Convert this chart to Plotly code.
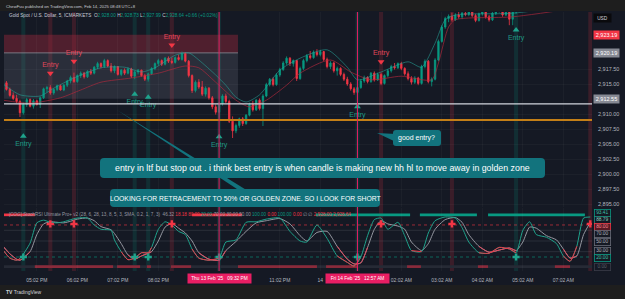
import plotly.graph_objects as go

# ---------------- data ----------------
bar_open = [
 2913.6, 2915.2, 2914.1, 2913.1, 2912.6, 2912.1, 2910.2, 2911.6, 2912.4, 2911.3,
 2912.2, 2911.6, 2912.7, 2914.2, 2914.4, 2913.5, 2914.1, 2914.7, 2914.0, 2914.8,
 2915.5, 2916.1, 2915.4, 2916.4, 2916.8, 2916.2, 2917.1, 2916.8, 2917.8, 2918.4,
 2917.9, 2918.9, 2918.0, 2917.2, 2917.9, 2916.6, 2917.3, 2916.8, 2917.5, 2916.3,
 2917.0, 2917.3, 2916.4, 2915.8, 2916.7, 2917.6, 2918.4, 2918.9, 2918.3, 2919.3,
 2918.8, 2918.6, 2919.4, 2919.1, 2920.1, 2918.8, 2916.4, 2913.9, 2915.3, 2914.5,
 2913.3, 2914.3, 2912.7, 2911.2, 2910.3, 2911.7, 2913.0, 2912.1, 2908.8, 2907.2,
 2908.1, 2909.2, 2908.4, 2909.8, 2911.6, 2910.7, 2912.3, 2910.9, 2913.0, 2914.9,
 2915.8, 2914.9, 2916.5, 2917.4, 2918.5, 2919.3, 2918.4, 2918.9, 2915.9, 2917.6,
 2918.9, 2919.7, 2919.4, 2920.3, 2919.9, 2920.4, 2919.1, 2917.9, 2918.5, 2917.2,
 2917.6, 2916.6, 2915.8, 2915.0, 2914.2, 2913.6, 2914.4, 2915.5, 2916.1, 2915.4,
 2916.8, 2915.7, 2916.6, 2915.1, 2916.4, 2917.2, 2917.9, 2917.7, 2918.4, 2917.6,
 2916.7, 2915.9, 2915.3, 2916.0, 2915.1, 2917.9, 2918.8, 2915.4, 2915.8, 2919.0,
 2922.1, 2924.5, 2925.9, 2926.3, 2925.7, 2926.5, 2926.2, 2926.8, 2926.6, 2927.1,
 2926.4, 2925.6, 2926.7, 2927.0, 2926.2, 2925.7, 2926.8, 2927.1, 2927.4, 2926.5,
 2927.2, 2925.8, 2927.0, 2927.5, 2928.1, 2928.7, 2929.0, 2929.4, 2929.2, 2929.7,
 2929.5, 2929.1, 2929.3, 2928.8, 2928.5, 2928.1, 2927.8, 2928.0, 2927.6, 2927.5,
 2927.9, 2928.2, 2928.1, 2928.3, 2928.0]
bar_high = [
 2915.6, 2915.5, 2914.4, 2913.6, 2913.2, 2912.4, 2911.9, 2912.7, 2912.6, 2912.5,
 2912.4, 2912.9, 2914.4, 2914.7, 2914.8, 2914.3, 2914.9, 2914.9, 2915.0, 2915.7,
 2916.4, 2916.9, 2916.6, 2917.1, 2917.0, 2917.3, 2917.5, 2918.0, 2918.7, 2918.6,
 2919.2, 2919.1, 2918.5, 2918.1, 2918.0, 2917.5, 2917.6, 2917.8, 2917.7, 2917.2,
 2917.5, 2917.4, 2916.7, 2916.9, 2917.8, 2918.6, 2919.2, 2919.1, 2919.5, 2919.6,
 2919.4, 2919.6, 2919.9, 2920.4, 2920.3, 2919.0, 2916.6, 2915.6, 2915.8, 2915.5,
 2914.6, 2914.5, 2913.0, 2911.6, 2912.0, 2913.3, 2913.4, 2912.4, 2909.6, 2908.4,
 2909.4, 2909.5, 2910.0, 2911.9, 2912.2, 2912.5, 2912.6, 2913.3, 2915.2, 2916.0,
 2916.1, 2916.8, 2917.7, 2918.8, 2919.6, 2919.5, 2919.1, 2919.0, 2917.9, 2919.2,
 2920.0, 2920.5, 2920.6, 2920.8, 2920.7, 2920.5, 2919.4, 2918.8, 2918.7, 2917.9,
 2917.8, 2916.9, 2916.2, 2915.3, 2914.5, 2914.6, 2915.8, 2916.4, 2916.3, 2917.0,
 2917.1, 2916.9, 2916.9, 2916.6, 2917.5, 2918.2, 2918.5, 2918.6, 2918.7, 2917.8,
 2917.1, 2916.3, 2916.3, 2916.2, 2918.2, 2919.1, 2919.0, 2916.1, 2919.3, 2922.4,
 2924.8, 2926.2, 2926.6, 2926.9, 2926.8, 2927.1, 2927.0, 2927.2, 2927.4, 2927.3,
 2926.7, 2926.9, 2927.3, 2927.2, 2926.5, 2927.0, 2927.4, 2927.6, 2927.5, 2927.4,
 2927.3, 2927.2, 2927.8, 2928.3, 2928.9, 2929.3, 2929.6, 2929.8, 2929.9, 2930.1,
 2929.8, 2929.6, 2929.5, 2929.1, 2928.8, 2928.4, 2928.2, 2928.1, 2927.9, 2928.0,
 2928.3, 2928.5, 2928.4, 2928.6, 2928.73]
bar_low = [
 2913.3, 2913.9, 2912.9, 2912.3, 2911.8, 2909.5, 2909.9, 2911.2, 2911.1, 2910.9,
 2911.4, 2911.0, 2912.5, 2913.6, 2913.2, 2913.2, 2913.8, 2913.9, 2913.8, 2914.5,
 2915.1, 2915.2, 2915.2, 2916.0, 2915.9, 2916.0, 2916.5, 2916.6, 2917.5, 2917.6,
 2917.7, 2917.8, 2916.9, 2916.8, 2916.4, 2916.3, 2916.5, 2916.6, 2916.0, 2915.8,
 2916.6, 2916.2, 2915.5, 2915.4, 2916.5, 2917.3, 2918.1, 2918.0, 2918.1, 2918.5,
 2918.3, 2918.4, 2918.9, 2918.9, 2918.6, 2916.1, 2913.5, 2913.6, 2914.2, 2913.0,
 2912.9, 2912.4, 2910.8, 2909.9, 2909.2, 2911.4, 2911.8, 2908.5, 2906.0, 2906.8,
 2907.7, 2908.0, 2908.2, 2909.6, 2910.4, 2910.5, 2910.6, 2908.0, 2912.8, 2914.6,
 2914.6, 2914.7, 2916.2, 2917.2, 2918.2, 2918.0, 2917.9, 2915.5, 2915.7, 2917.3,
 2918.6, 2919.1, 2919.2, 2919.6, 2919.6, 2918.8, 2917.6, 2917.5, 2916.9, 2916.4,
 2916.3, 2915.5, 2914.7, 2913.9, 2913.2, 2913.3, 2914.2, 2915.2, 2915.1, 2915.2,
 2915.4, 2915.5, 2914.8, 2914.9, 2916.1, 2916.9, 2917.4, 2917.5, 2917.3, 2916.4,
 2915.6, 2914.9, 2915.0, 2914.8, 2914.9, 2917.6, 2915.1, 2914.6, 2915.6, 2918.8,
 2921.9, 2924.2, 2925.3, 2925.4, 2925.5, 2925.9, 2925.8, 2926.3, 2926.3, 2926.1,
 2925.3, 2925.4, 2926.4, 2925.9, 2925.4, 2925.5, 2926.5, 2926.9, 2926.2, 2926.3,
 2924.8, 2924.8, 2926.7, 2927.4, 2927.9, 2928.4, 2928.7, 2928.9, 2929.0, 2929.2,
 2928.9, 2928.7, 2928.6, 2928.3, 2927.9, 2927.6, 2927.5, 2927.4, 2927.3, 2927.4,
 2927.7, 2927.9, 2927.8, 2927.9, 2927.99]
bar_close = [
 2915.2, 2914.1, 2913.1, 2912.6, 2912.1, 2910.2, 2911.6, 2912.4, 2911.3, 2912.2,
 2911.6, 2912.7, 2914.2, 2914.4, 2913.5, 2914.1, 2914.7, 2914.0, 2914.8, 2915.5,
 2916.1, 2915.4, 2916.4, 2916.8, 2916.2, 2917.1, 2916.8, 2917.8, 2918.4, 2917.9,
 2918.9, 2918.0, 2917.2, 2917.9, 2916.6, 2917.3, 2916.8, 2917.5, 2916.3, 2917.0,
 2917.3, 2916.4, 2915.8, 2916.7, 2917.6, 2918.4, 2918.9, 2918.3, 2919.3, 2918.8,
 2918.6, 2919.4, 2919.1, 2920.1, 2918.8, 2916.4, 2913.9, 2915.3, 2914.5, 2913.3,
 2914.3, 2912.7, 2911.2, 2910.3, 2911.7, 2913.0, 2912.1, 2908.8, 2907.2, 2908.1,
 2909.2, 2908.4, 2909.8, 2911.6, 2910.7, 2912.3, 2910.9, 2913.0, 2914.9, 2915.8,
 2914.9, 2916.5, 2917.4, 2918.5, 2919.3, 2918.4, 2918.9, 2915.9, 2917.6, 2918.9,
 2919.7, 2919.4, 2920.3, 2919.9, 2920.4, 2919.1, 2917.9, 2918.5, 2917.2, 2917.6,
 2916.6, 2915.8, 2915.0, 2914.2, 2913.6, 2914.4, 2915.5, 2916.1, 2915.4, 2916.8,
 2915.7, 2916.6, 2915.1, 2916.4, 2917.2, 2917.9, 2917.7, 2918.4, 2917.6, 2916.7,
 2915.9, 2915.3, 2916.0, 2915.1, 2917.9, 2918.8, 2915.4, 2915.8, 2919.0, 2922.1,
 2924.5, 2925.9, 2926.3, 2925.7, 2926.5, 2926.2, 2926.8, 2926.6, 2927.1, 2926.4,
 2925.6, 2926.7, 2927.0, 2926.2, 2925.7, 2926.8, 2927.1, 2927.4, 2926.5, 2927.2,
 2925.8, 2927.0, 2927.5, 2928.1, 2928.7, 2929.0, 2929.4, 2929.2, 2929.7, 2929.5,
 2929.1, 2929.3, 2928.8, 2928.5, 2928.1, 2927.8, 2928.0, 2927.6, 2927.5, 2927.9,
 2928.2, 2928.1, 2928.3, 2928.0, 2928.64]
bars = list(range(len(bar_close)))

tick_bars = [10, 22, 34, 46, 82, 94, 118, 130, 142, 154, 166]
tick_labels = ["05:02 PM", "06:02 PM", "07:02 PM", "08:02 PM", "11:02 PM", "14",
               "02:02 AM", "03:02 AM", "04:02 AM", "05:02 AM", "07:02 AM"]
price_ticks = [2895, 2897.5, 2900, 2902.5, 2905, 2907.5, 2910, 2915, 2917.5]

ma_up_idx = [0, 5, 11, 15, 21, 29, 36, 41, 45, 51, 55, 58, 63, 66, 69, 72, 76, 82, 88, 96,
             102, 105, 112, 120, 124, 128, 131, 134, 151, 174]
ma_up = [2915.0, 2913.2, 2913.0, 2914.3, 2916.0, 2917.7, 2917.8, 2917.0, 2917.7, 2919.8,
         2920.2, 2919.0, 2916.5, 2914.8, 2912.8, 2912.0, 2913.2, 2917.3, 2919.3, 2920.7,
         2917.8, 2915.7, 2917.0, 2918.7, 2917.8, 2921.8, 2925.7, 2926.5, 2926.8, 2928.5]
ma_dn_idx = [0, 8, 17, 23, 29, 38, 46, 54, 58, 63, 69, 73, 78, 84, 88, 97, 103, 109, 118, 127,
             129, 132, 134, 151, 174]
ma_dn = [2912.3, 2911.8, 2912.7, 2914.0, 2915.3, 2916.0, 2916.8, 2918.0, 2917.7, 2915.3,
         2912.3, 2911.2, 2912.3, 2914.8, 2916.8, 2919.0, 2917.0, 2915.7, 2916.3, 2915.7,
         2918.5, 2924.5, 2925.7, 2926.2, 2928.0]

sell_bars = [14, 21, 50, 112]
sell_mark = [2916.8, 2918.8, 2921.5, 2918.7]
buy_bars = [6, 39, 43, 64, 105, 152]
buy_mark = [2906.3, 2913.3, 2912.8, 2906.2, 2911.2, 2924.0]
red_band_bars = [14, 21, 50, 112, 133, 174]
green_band_bars = [6, 39, 43, 64, 105, 152]
crosshair_bars = [64, 105]
crosshair_labels = ["Thu 13 Feb '25&nbsp;&nbsp;&nbsp;09:32 PM", "Fri 14 Feb '25&nbsp;&nbsp;&nbsp;12:57 AM"]

red_zone = [2920.19, 2923.19]
gray_zone = [2912.55, 2920.19]
zone_end_bar = 69.6
white_level = 2911.7
orange_level = 2909.0

st_idx = [0, 2, 4, 5, 8, 10, 12, 14, 16, 18, 20, 22, 25, 27, 29, 32, 33, 35, 37, 39,
          41, 43, 44, 46, 48, 50, 52, 54, 56, 58, 61, 64, 66, 69, 72, 75, 78, 82, 85, 88,
          90, 93, 96, 99, 102, 104, 106, 108, 110, 112, 114, 117, 119, 121, 124, 126, 128, 131, 134, 136,
          138, 141, 144, 147, 150, 152, 154, 156, 158, 161, 164, 166, 168, 170, 172, 174]
st_k = [33, 18, 14, 17, 46, 84, 89, 85, 84, 86, 90, 93, 93, 80, 72, 70, 52, 30, 15, 18,
        28, 28, 38, 72, 86, 80, 68, 62, 35, 18, 14, 18, 48, 52, 85, 86, 91, 93, 68, 50,
        48, 80, 55, 22, 10, 3, 20, 60, 90, 93, 72, 85, 60, 32, 30, 65, 88, 95, 93, 75,
        48, 28, 27, 38, 35, 28, 70, 86, 62, 57, 45, 22, 12, 40, 93, 95]
st_d = [40, 26, 16, 14, 30, 62, 82, 86, 85, 84, 87, 91, 93, 88, 77, 71, 64, 45, 24, 16,
        22, 27, 30, 50, 76, 83, 74, 65, 50, 28, 16, 14, 32, 49, 68, 84, 88, 92, 82, 60,
        50, 66, 68, 40, 16, 7, 9, 38, 72, 88, 82, 78, 72, 48, 32, 45, 72, 90, 94, 85,
        62, 40, 29, 33, 37, 32, 48, 76, 74, 60, 52, 35, 18, 22, 62, 85]
top_red_segments = [[0, 9.4], [56, 70.8]]
top_green_segments = [[92.7, 120.6], [123.5, 140.4], [143.7, 172.4]]
bottom_red_segments = [[9.4, 32.6], [33.8, 40.6], [42.6, 43.8], [49.7, 55.7], [69.6, 93],
                       [95.7, 104.9], [119.7, 123.8], [140.7, 143.7], [163.5, 168]]

# ---------------- layout helpers ----------------
W, H = 625, 299
ML, MR, MT, MB = 4, 33, 12, 28
PW, PH = W - ML - MR, H - MT - MB


def X(p):
    return (p - ML) / PW


def Y(p):
    return (H - MB - p) / PH


BG = "#151924"
UP = "#089981"
DN = "#f23645"
TXT = "#b2b5be"
TEAL_BOX = "#12737d"
FONT = "Liberation Sans, Arial, sans-serif"

fig = go.Figure()

fig.add_trace(go.Candlestick(
    x=bars, open=bar_open, high=bar_high, low=bar_low, close=bar_close,
    xaxis="x", yaxis="y", whiskerwidth=0, hoverinfo="skip",
    increasing=dict(line=dict(color=UP, width=0.8), fillcolor=UP),
    decreasing=dict(line=dict(color=DN, width=0.8), fillcolor=DN)))

fig.add_trace(go.Scatter(x=ma_up_idx, y=ma_up, mode="lines", xaxis="x", yaxis="y",
                         line=dict(color="rgba(38,166,154,0.55)", width=1, shape="spline", smoothing=0.7),
                         hoverinfo="skip"))
fig.add_trace(go.Scatter(x=ma_dn_idx, y=ma_dn, mode="lines", xaxis="x", yaxis="y",
                         line=dict(color="rgba(178,40,60,0.65)", width=1, shape="spline", smoothing=0.7),
                         hoverinfo="skip"))

fig.add_trace(go.Scatter(x=sell_bars, y=sell_mark, mode="markers+text", xaxis="x", yaxis="y",
                         marker=dict(symbol="triangle-down", size=6, color=DN),
                         text=["Entry"] * len(sell_bars), textposition="top center",
                         textfont=dict(size=7, color="#e0475a", family=FONT), hoverinfo="skip"))
fig.add_trace(go.Scatter(x=buy_bars, y=buy_mark, mode="markers+text", xaxis="x", yaxis="y",
                         marker=dict(symbol="triangle-up", size=6, color="#1fa38c"),
                         text=["Entry"] * len(buy_bars), textposition="bottom center",
                         textfont=dict(size=7, color="#1f9985", family=FONT), hoverinfo="skip"))

# stoch lines
fig.add_trace(go.Scatter(x=st_idx, y=st_d, mode="lines", xaxis="x", yaxis="y2",
                         line=dict(color="#9598a1", width=1, shape="spline", smoothing=0.6), hoverinfo="skip"))
fig.add_trace(go.Scatter(x=st_idx, y=st_k, mode="lines", xaxis="x", yaxis="y2",
                         line=dict(color="#1fa38c", width=1, shape="spline", smoothing=0.6), hoverinfo="skip"))
fig.add_trace(go.Scatter(x=st_idx, y=[v if v < 45 else None for v in st_d], mode="lines", xaxis="x", yaxis="y2",
                         line=dict(color="#e0475a", width=1, shape="spline", smoothing=0.6), hoverinfo="skip"))
fig.add_trace(go.Scatter(x=st_idx, y=[v if v < 45 else None for v in st_k], mode="lines", xaxis="x", yaxis="y2",
                         line=dict(color="#f23645", width=1, shape="spline", smoothing=0.6), hoverinfo="skip"))
fig.add_trace(go.Scatter(x=red_band_bars, y=[82] * len(red_band_bars), mode="markers", xaxis="x", yaxis="y2",
                         marker=dict(symbol="cross", size=6, color=DN), hoverinfo="skip"))
fig.add_trace(go.Scatter(x=green_band_bars, y=[20] * len(green_band_bars), mode="markers", xaxis="x", yaxis="y2",
                         marker=dict(symbol="cross", size=6, color="#1fa38c"), hoverinfo="skip"))

shapes = []
# strips
shapes.append(dict(type="rect", xref="paper", yref="paper", x0=X(0), x1=X(W), y0=Y(11), y1=Y(0),
                   fillcolor="#1e1e1e", line_width=0, layer="above"))
shapes.append(dict(type="rect", xref="paper", yref="paper", x0=X(0), x1=X(W), y0=Y(H), y1=Y(285),
                   fillcolor="#1e1e1e", line_width=0, layer="above"))
# zones
shapes.append(dict(type="rect", xref="x", yref="y", x0=-2, x1=zone_end_bar, y0=red_zone[0], y1=red_zone[1],
                   fillcolor="rgba(150,40,60,0.45)", line_width=0, layer="below"))
shapes.append(dict(type="rect", xref="x", yref="y", x0=-2, x1=zone_end_bar, y0=gray_zone[0], y1=gray_zone[1],
                   fillcolor="rgba(120,125,135,0.22)", line_width=0, layer="below"))
shapes.append(dict(type="line", xref="x", yref="y", x0=-2, x1=zone_end_bar, y0=gray_zone[1], y1=gray_zone[1],
                   line=dict(color="rgba(170,172,182,0.6)", width=1), layer="below"))
# vertical signal bands
for b in red_band_bars:
    shapes.append(dict(type="rect", xref="x", yref="paper", x0=b - 0.6, x1=b + 0.6, y0=0, y1=1,
                       fillcolor="rgba(242,54,69,0.17)", line_width=0, layer="below"))
for b in green_band_bars:
    shapes.append(dict(type="rect", xref="x", yref="paper", x0=b - 0.6, x1=b + 0.6, y0=0, y1=1,
                       fillcolor="rgba(8,153,129,0.17)", line_width=0, layer="below"))
# stoch pane levels
shapes.append(dict(type="line", xref="paper", yref="y2", x0=0, x1=1, y0=80, y1=80,
                   line=dict(color="rgba(242,54,69,0.6)", width=1, dash="dot"), layer="below"))
shapes.append(dict(type="line", xref="paper", yref="y2", x0=0, x1=1, y0=20, y1=20,
                   line=dict(color="rgba(8,153,129,0.6)", width=1, dash="dot"), layer="below"))
for lv in [70, 50, 30]:
    shapes.append(dict(type="line", xref="paper", yref="y2", x0=0, x1=1, y0=lv, y1=lv,
                       line=dict(color="rgba(120,123,134,0.22)", width=1), layer="below"))
shapes.append(dict(type="rect", xref="paper", yref="y2", x0=0, x1=1, y0=-0.5, y1=4.5,
                   fillcolor="#262a35", line_width=0, layer="below"))
for a, b in bottom_red_segments:
    shapes.append(dict(type="rect", xref="x", yref="y2", x0=a, x1=b, y0=-0.5, y1=4.5,
                       fillcolor="#8a2a3a", line_width=0, layer="below"))
for a, b in top_red_segments:
    shapes.append(dict(type="rect", xref="x", yref="y2", x0=a, x1=b, y0=96.5, y1=101.5,
                       fillcolor=DN, line_width=0, layer="below"))
for a, b in top_green_segments:
    shapes.append(dict(type="rect", xref="x", yref="y2", x0=a, x1=b, y0=96.5, y1=101.5,
                       fillcolor=UP, line_width=0, layer="below"))
# horizontal price lines
shapes.append(dict(type="line", xref="paper", yref="y", x0=0, x1=1, y0=white_level, y1=white_level,
                   line=dict(color="#d1d4dc", width=1.2), layer="above"))
shapes.append(dict(type="line", xref="paper", yref="y", x0=0, x1=1, y0=orange_level, y1=orange_level,
                   line=dict(color="#c47f17", width=2), layer="above"))
# crosshairs
for b in crosshair_bars:
    shapes.append(dict(type="line", xref="x", yref="paper", x0=b, x1=b, y0=0, y1=1,
                       line=dict(color="#e91e63", width=1), layer="above"))


def rrect(x0, y0, x1, y1, r=4):
    return (f"M {X(x0 + r)},{Y(y0)} L {X(x1 - r)},{Y(y0)} Q {X(x1)},{Y(y0)} {X(x1)},{Y(y0 + r)} "
            f"L {X(x1)},{Y(y1 - r)} Q {X(x1)},{Y(y1)} {X(x1 - r)},{Y(y1)} L {X(x0 + r)},{Y(y1)} "
            f"Q {X(x0)},{Y(y1)} {X(x0)},{Y(y1 - r)} L {X(x0)},{Y(y0 + r)} Q {X(x0)},{Y(y0)} {X(x0 + r)},{Y(y0)} Z")


def tri(p1, p2, p3):
    return f"M {X(p1[0])},{Y(p1[1])} L {X(p2[0])},{Y(p2[1])} L {X(p3[0])},{Y(p3[1])} Z"


callout_fill = dict(fillcolor=TEAL_BOX, line_width=0, layer="above", xref="paper", yref="paper", type="path")
shapes.append(dict(path=tri((117, 110), (240, 191), (248, 191)), **callout_fill))
shapes.append(dict(path=rrect(110, 189, 380, 207), **callout_fill))
shapes.append(dict(path=rrect(100, 158, 545, 178), **callout_fill))
shapes.append(dict(path=tri((377, 133), (396, 134), (396, 142)), **callout_fill))
shapes.append(dict(path=rrect(393, 130, 441, 146, 3), **callout_fill))

ann = []


def label(px, py, text, size, color, xanchor="left", **kw):
    ann.append(dict(x=X(px), y=Y(py), xref="paper", yref="paper", text=text, showarrow=False,
                    xanchor=xanchor, yanchor="middle", font=dict(size=size, color=color, family=FONT), **kw))


label(4, 6, "ChewFuu published on TradingView.com, Feb 14, 2025 08:48 UTC+8", 4.2, "#c9ccd4")
g = UP
label(7, 16, "Gold Spot / U.S. Dollar, 5, ICMARKETS&nbsp;&nbsp;"
      f"O<span style='color:{g}'>2,928.00</span> H<span style='color:{g}'>2,928.73</span> "
      f"L<span style='color:{g}'>2,927.99</span> C<span style='color:{g}'>2,928.64</span> "
      f"<span style='color:{g}'>+0.66 (+0.02%)</span>", 4.7, "#c9ccd4")
r = DN
label(7, 214, "[COG] StochRSI Ultimate Pro+ v2 (28, 6, 28, 13, 8, 5, 3, SMA, 0.2, 1, 7, 3)&nbsp;&nbsp;"
      f"<span style='color:#9598a1'>46.32</span> <span style='color:{r}'>18.18</span> "
      f"<span style='color:{r}'>80.00</span> <span style='color:{g}'>20.00</span> "
      f"<span style='color:#9598a1'>70.00 30.00 50.00</span> <span style='color:{g}'>100.00</span> "
      f"<span style='color:{r}'>0.00</span> <span style='color:{g}'>100.00</span> "
      f"<span style='color:{r}'>0.00</span> ∅ ∅ <span style='color:{r}'>2,928.00 2,928.64</span>",
      4.6, "#9598a1")

# callout texts
label(322.5, 168, "entry in ltf but stop out . i think best entry is when candle is making new hh hl to move away in golden zone",
      8.8, "#ffffff", xanchor="center")
label(245, 198, "LOOKING FOR RETRACEMENT TO 50% OR GOLDEN ZONE. SO I LOOK FOR SHORT", 6.8, "#ffffff", xanchor="center")
label(417, 138, "good entry?", 7, "#ffffff", xanchor="center")

# right axis boxes
label(602, 18, "USD", 4.8, "#d1d4dc", xanchor="center", bgcolor="#0a0a0d", width=15, height=6, borderpad=1)
for price, bgc in [(2923.19, "#f23645"), (2920.19, "#868993"), (2912.55, "#868993")]:
    ann.append(dict(x=X(606), y=price, xref="paper", yref="y", text=f"{price:,.2f}", showarrow=False,
                    xanchor="center", yanchor="middle", bgcolor=bgc, width=23, height=6, borderpad=1,
                    font=dict(size=5.5, color="#ffffff", family=FONT)))
stoch_boxes = [(213, "93.41", "#3fc1a8", UP, BG), (220, "88.79", "#8fd0c0", "#1f8f7c", BG),
               (227, "80.00", "#ff8a96", DN, "#5a1a24"), (234, "70.00", "#b2b5be", "#6a6d78", BG),
               (242, "50.00", "#b2b5be", "#6a6d78", BG), (251, "30.00", "#b2b5be", "#6a6d78", BG),
               (258, "20.00", "#3fc1a8", UP, BG), (267, "0.00", "#5d606b", "#3a3d48", BG)]
for py_, t, fc, bc, bgc in stoch_boxes:
    label(602, py_, t, 4.8, fc, xanchor="center", bgcolor=bgc, bordercolor=bc, borderwidth=0.8,
          width=14, height=5, borderpad=0.5)

# crosshair time labels
for b, t in zip(crosshair_bars, crosshair_labels):
    ann.append(dict(x=b, y=Y(278.5), xref="x", yref="paper", text=t, showarrow=False, xanchor="center",
                    yanchor="middle", bgcolor="#e91e63", width=62, height=8, borderpad=0.5,
                    font=dict(size=4.8, color="#ffffff", family=FONT)))

label(4, 292, "<b>TV</b> TradingView", 5, "#d1d4dc")

fig.update_layout(
    width=W, height=H, margin=dict(l=ML, r=MR, t=MT, b=MB),
    paper_bgcolor=BG, plot_bgcolor=BG, showlegend=False, hovermode=False,
    font=dict(family=FONT, color=TXT),
    boxgap=0.4,
    xaxis=dict(domain=[0, 1], anchor="y2", range=[0.27, 174.5], tickvals=tick_bars, ticktext=tick_labels,
               tickfont=dict(size=5, color=TXT), showgrid=True, gridcolor="rgba(255,255,255,0.03)",
               zeroline=False, showline=False, ticks="", ticklabelstandoff=5,
               rangeslider=dict(visible=False), fixedrange=True),
    yaxis=dict(domain=[Y(207), 1], anchor="x", range=[2894.5, 2927], side="right",
               tickvals=price_ticks, ticktext=[f"{v:,.2f}" for v in price_ticks],
               tickfont=dict(size=5.5, color=TXT), ticks="", ticklabelstandoff=5,
               showgrid=True, gridcolor="rgba(255,255,255,0.03)", zeroline=False, showline=False, fixedrange=True),
    yaxis2=dict(domain=[0, Y(208)], anchor="x", range=[-6.2, 111.8], showticklabels=False,
                showgrid=False, zeroline=False, showline=False, fixedrange=True),
    shapes=shapes, annotations=ann,
)

fig.write_html("out.html")
